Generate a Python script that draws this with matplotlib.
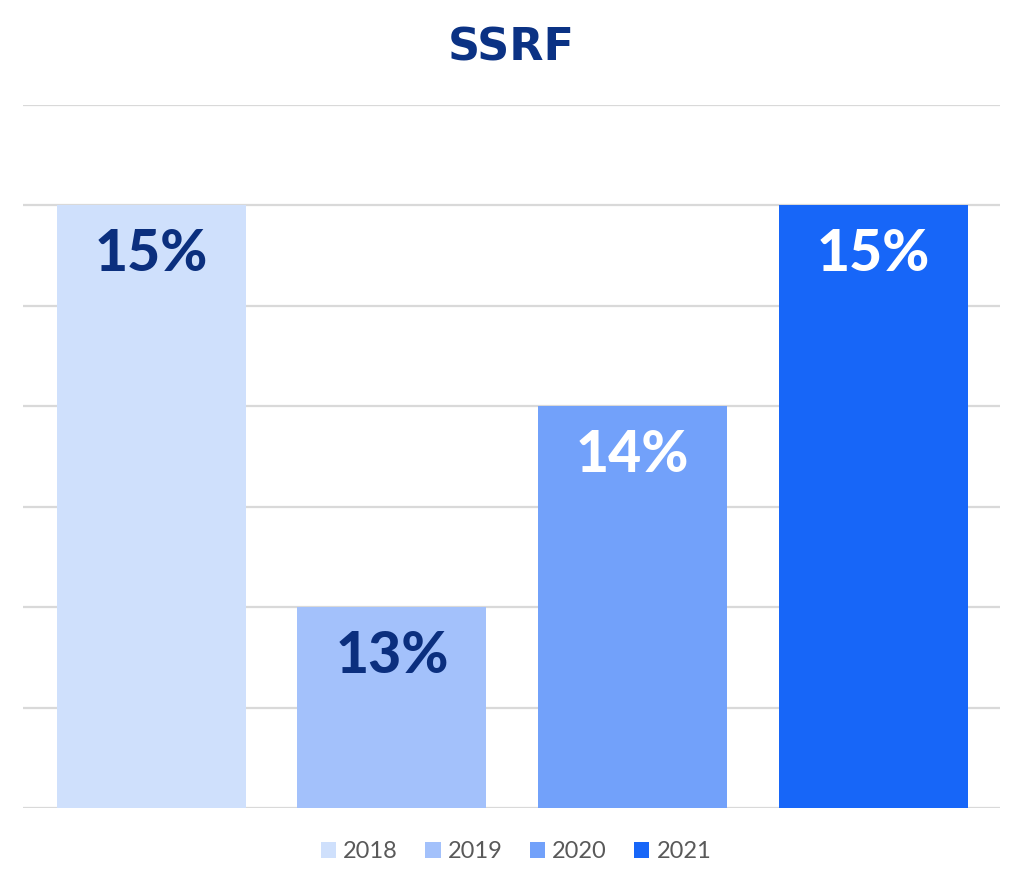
"""Recreate the SSRF yearly bar chart."""

import matplotlib.pyplot as plt
from matplotlib.patches import Patch

years = ["2018", "2019", "2020", "2021"]
values = [15, 13, 14, 15]
labels = ["15%", "13%", "14%", "15%"]
colors = ["#CFE0FC", "#A3C1FB", "#72A1FA", "#1766F8"]
label_colors = ["#0B2F7E", "#0B2F7E", "#FFFFFF", "#FFFFFF"]
y_ticks = [12, 12.5, 13, 13.5, 14, 14.5, 15, 15.5]

W, H = 1023, 889
fig = plt.figure(figsize=(W / 100, H / 100), dpi=100)
ax = fig.add_axes([23 / W, (H - 808) / H, (1000 - 23) / W, (808 - 105) / H])

x = list(range(len(years)))
ax.bar(x, [v - y_ticks[0] for v in values], bottom=y_ticks[0], width=0.785,
       color=colors, zorder=3)
for xi, v, lab, lc in zip(x, values, labels, label_colors):
    ax.text(xi, v - 0.245, lab, ha="center", va="center", fontsize=41,
            fontweight="black", family=["Lato", "DejaVu Sans"], color=lc, zorder=4)

ax.set_xlim(-0.533, 3.527)
ax.set_ylim(y_ticks[0], y_ticks[-1])
ax.set_yticks(y_ticks)
ax.yaxis.grid(True, color="#D9D9D9", linewidth=1.6, zorder=0)
ax.tick_params(left=False, bottom=False, labelleft=False, labelbottom=False)
for s in ax.spines.values():
    s.set_visible(False)

fig.text(511 / W, 1 - 48 / H, "SSRF", ha="center", va="center", fontsize=32,
         fontweight="bold", family="DejaVu Sans", color="#0B3284")

handles = [Patch(facecolor=c, edgecolor="none") for c in colors]
fig.legend(handles, years, loc="center", bbox_to_anchor=(516 / W, 1 - 852 / H),
           ncol=4, frameon=False, handlelength=0.65, handleheight=0.65,
           handletextpad=0.3, columnspacing=1.15, labelcolor="#595959",
           prop={"family": ["Lato", "DejaVu Sans"], "size": 17})

fig.savefig("out.png", dpi=100)
